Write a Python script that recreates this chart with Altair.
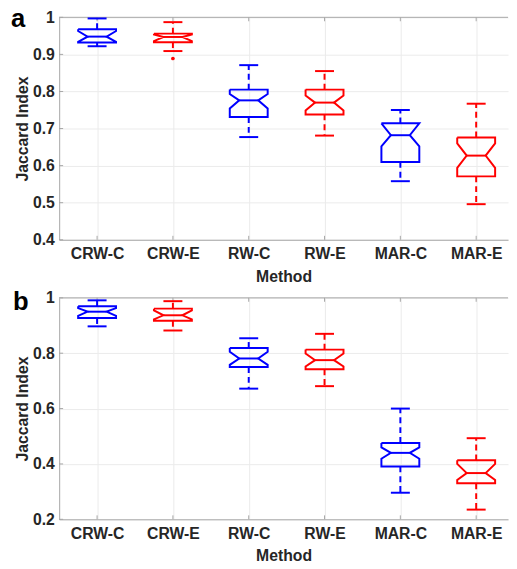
import json
import altair as alt
import pandas as pd

# ---------------- data ----------------
methods = ["CRW-C", "CRW-E", "RW-C", "RW-E", "MAR-C", "MAR-E"]
groups = ["C", "E", "C", "E", "C", "E"]

# panel a
a_max = [0.997, 0.987, 0.871, 0.855, 0.750, 0.767]
a_q3 = [0.968, 0.956, 0.805, 0.805, 0.714, 0.676]
a_med = [0.948, 0.947, 0.776, 0.770, 0.682, 0.627]
a_q1 = [0.932, 0.933, 0.731, 0.738, 0.610, 0.571]
a_min = [0.922, 0.909, 0.677, 0.681, 0.558, 0.496]
a_nhi = [0.963, 0.954, 0.793, 0.789, 0.714, 0.660]
a_nlo = [0.934, 0.936, 0.754, 0.749, 0.652, 0.594]
a_out_method = ["CRW-E"]
a_out_value = [0.889]
a_yticks = [0.4, 0.5, 0.6, 0.7, 0.8, 0.9, 1.0]

# panel b
b_max = [0.991, 0.988, 0.854, 0.870, 0.600, 0.493]
b_q3 = [0.970, 0.961, 0.819, 0.813, 0.476, 0.413]
b_med = [0.950, 0.937, 0.781, 0.775, 0.440, 0.367]
b_q1 = [0.927, 0.917, 0.750, 0.742, 0.391, 0.330]
b_min = [0.897, 0.882, 0.672, 0.681, 0.296, 0.235]
b_nhi = [0.963, 0.955, 0.805, 0.799, 0.460, 0.400]
b_nlo = [0.935, 0.922, 0.758, 0.752, 0.419, 0.342]
b_out_method = []
b_out_value = []
b_yticks = [0.2, 0.4, 0.6, 0.8, 1.0]

# ---------------- styling ----------------
W = 456
BOX_HW = 0.25      # half box width (category units)
NOTCH_HW = 0.125   # half width at the notch waist
CAP_HW = 0.125     # half width of whisker caps
FONT = "Liberation Sans"
TXT = "#262626"
AXC = "#a6a6a6"
color_scale = alt.Scale(domain=["C", "E"], range=["#0000ff", "#ff0000"])
label_expr = json.dumps(methods) + "[datum.value - 1]"


def frames(vmax, q3, med, q1, vmin, nhi, nlo):
    poly, segs, whisk = [], [], []
    for i, m in enumerate(methods):
        c = i + 1
        g = groups[i]
        pts = [(c - BOX_HW, q3[i]), (c + BOX_HW, q3[i]), (c + BOX_HW, nhi[i]),
               (c + NOTCH_HW, med[i]), (c + BOX_HW, nlo[i]), (c + BOX_HW, q1[i]),
               (c - BOX_HW, q1[i]), (c - BOX_HW, nlo[i]), (c - NOTCH_HW, med[i]),
               (c - BOX_HW, nhi[i]), (c - BOX_HW, q3[i])]
        for k, (x, y) in enumerate(pts):
            poly.append(dict(method=m, grp=g, k=k, x=x, y=y))
        segs.append(dict(grp=g, x=c - NOTCH_HW, x2=c + NOTCH_HW, y=med[i], y2=med[i]))
        segs.append(dict(grp=g, x=c - CAP_HW, x2=c + CAP_HW, y=vmax[i], y2=vmax[i]))
        segs.append(dict(grp=g, x=c - CAP_HW, x2=c + CAP_HW, y=vmin[i], y2=vmin[i]))
        whisk.append(dict(grp=g, x=c, x2=c, y=q3[i], y2=vmax[i]))
        whisk.append(dict(grp=g, x=c, x2=c, y=q1[i], y2=vmin[i]))
    return pd.DataFrame(poly), pd.DataFrame(segs), pd.DataFrame(whisk)


def panel(letter, H, ymin, yticks, vmax, q3, med, q1, vmin, nhi, nlo, out_m, out_v, lx, ly):
    poly, segs, whisk = frames(vmax, q3, med, q1, vmin, nhi, nlo)
    xs = alt.Scale(domain=[0.5, 6.42], nice=False, zero=False)
    ys = alt.Scale(domain=[ymin, 1.0], nice=False, zero=False)
    xaxis = alt.Axis(values=[1, 2, 3, 4, 5, 6], labelExpr=label_expr, title="Method",
                     grid=True, tickSize=0, labelPadding=6, titlePadding=7)
    yaxis = alt.Axis(values=yticks, format=".1~f", title="Jaccard Index",
                     grid=True, tickSize=0, labelPadding=5, titlePadding=2)

    def X(f="x"):
        return alt.X(f"{f}:Q", scale=xs, axis=xaxis)

    def Y(f="y"):
        return alt.Y(f"{f}:Q", scale=ys, axis=yaxis)

    col = alt.Color("grp:N", scale=color_scale, legend=None)

    boxes = alt.Chart(poly).mark_line(strokeWidth=2, strokeJoin="miter").encode(
        x=X(), y=Y(), color=col, detail="method:N", order="k:Q")
    lines = alt.Chart(segs).mark_rule(strokeWidth=2).encode(
        x=X(), x2="x2:Q", y=Y(), y2="y2:Q", color=col)
    wh = alt.Chart(whisk).mark_rule(strokeWidth=2, strokeDash=[6, 4]).encode(
        x=X(), x2="x2:Q", y=Y(), y2="y2:Q", color=col)

    idx = pd.DataFrame({"x": [1, 2, 3, 4, 5, 6]})
    ticks_bottom = alt.Chart(idx).mark_rule(color=AXC, strokeWidth=1).encode(
        x=X(), y=alt.value(H), y2=alt.value(H - 4))
    ticks_top = alt.Chart(idx).mark_rule(color=AXC, strokeWidth=1).encode(
        x=X(), y=alt.value(0), y2=alt.value(4))
    yt = pd.DataFrame({"y": yticks})
    ticks_left = alt.Chart(yt).mark_rule(color=AXC, strokeWidth=1).encode(
        y=Y(), x=alt.value(0), x2=alt.value(4))
    top_border = alt.Chart(idx.head(1)).mark_rule(color=AXC, strokeWidth=1).encode(
        x=alt.value(0), x2=alt.value(W), y=alt.value(0))

    lab = alt.Chart(pd.DataFrame({"t": [letter]})).mark_text(
        font=FONT, fontWeight="bold", fontSize=26, color="black",
        align="left", baseline="alphabetic").encode(
        text="t:N", x=alt.value(lx), y=alt.value(ly))

    layers = [ticks_bottom, ticks_top, ticks_left, top_border, boxes, lines, wh, lab]
    if out_m:
        od = pd.DataFrame({"x": [methods.index(m) + 1 for m in out_m], "y": out_v,
                           "grp": [groups[methods.index(m)] for m in out_m]})
        layers.append(alt.Chart(od).mark_point(filled=True, size=14, opacity=1).encode(
            x=X(), y=Y(), color=col))
    return alt.layer(*layers).properties(width=W, height=H)


pa = panel("a", 226, 0.4, a_yticks, a_max, a_q3, a_med, a_q1, a_min, a_nhi, a_nlo,
           a_out_method, a_out_value, -49, 10)
pb = panel("b", 225, 0.2, b_yticks, b_max, b_q3, b_med, b_q1, b_min, b_nhi, b_nlo,
           b_out_method, b_out_value, -47, 12)

chart = alt.vconcat(pa, pb, spacing=5).properties(
    padding={"left": 3, "top": -6, "right": 0, "bottom": 0}
).configure_view(stroke=None).configure_axis(
    labelFont=FONT, labelFontWeight="bold", labelFontSize=16, labelColor=TXT,
    titleFont=FONT, titleFontWeight="bold", titleFontSize=16, titleColor=TXT,
    domainColor=AXC, domainWidth=1, gridColor="#ebebeb", gridWidth=1,
)

chart.save("out.html", embed_options={"renderer": "svg", "actions": False})
